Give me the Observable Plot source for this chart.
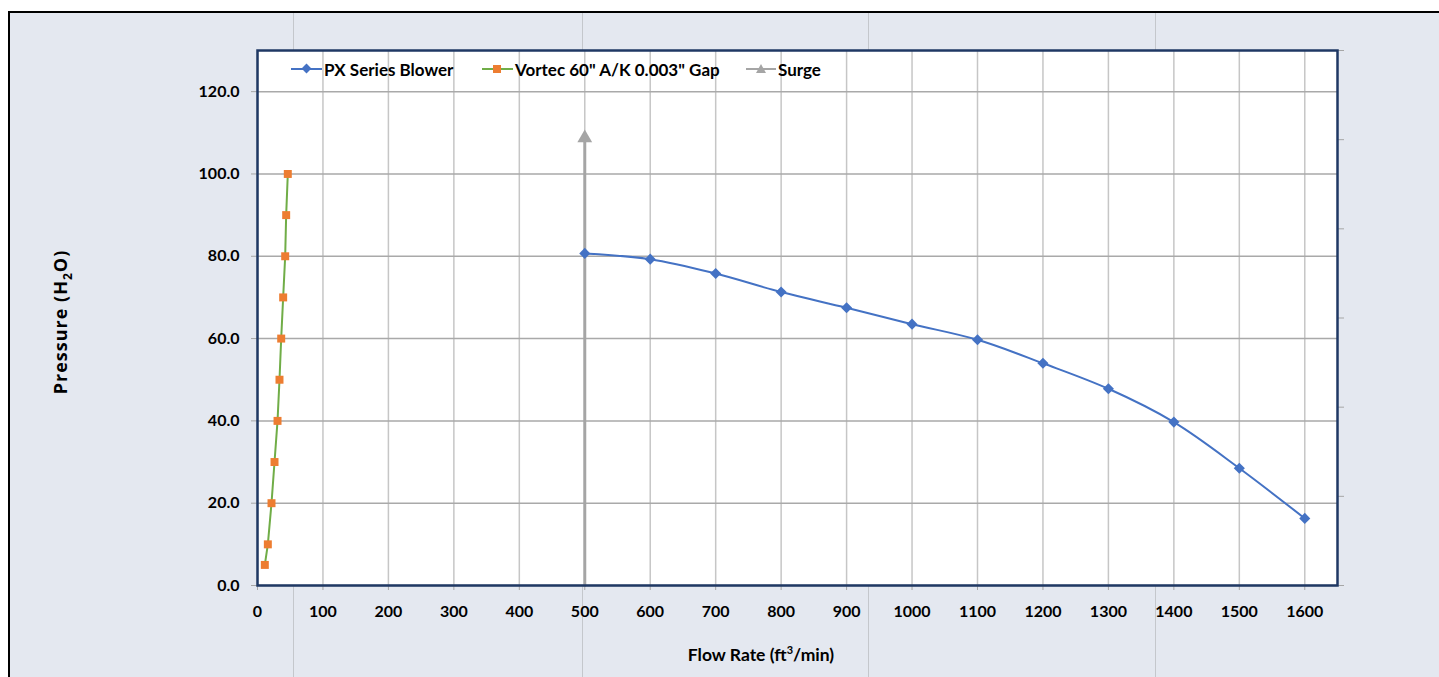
<!DOCTYPE html>
<html><head><meta charset="utf-8">
<script src="https://cdn.jsdelivr.net/npm/d3@7"></script>
<script src="https://cdn.jsdelivr.net/npm/@observablehq/plot@0.6"></script>
<style>
body{margin:0;background:#fff;width:1439px;height:677px;overflow:hidden;font-family:Lato,"Open Sans",sans-serif;}
#page{position:absolute;left:8px;top:11px;right:0;bottom:0;background:#e4e8f0;border-top:2.5px solid #000;border-left:2px solid #000;}
.vl{position:absolute;top:0;bottom:0;width:1px;background:#c4c7cc}
#chart{position:absolute;left:0;top:0}
.t{position:absolute;font-weight:bold;color:#000;white-space:nowrap;transform:translate(-50%,-50%)}
#ytitle{transform:translate(-50%,-50%) rotate(-90deg);font-size:18px;letter-spacing:1px;font-family:"Open Sans",sans-serif}
#xtitle{font-size:17.5px}
.leg{position:absolute;top:59px;height:20px;display:flex;align-items:center;font-size:17px;font-weight:bold;color:#000;white-space:nowrap}
.leg svg{margin-right:2px}
</style></head>
<body>
<div id="page">
  <div class="vl" style="left:283px"></div>
  <div class="vl" style="left:572px"></div>
  <div class="vl" style="left:858px"></div>
  <div class="vl" style="left:1145px"></div>
</div>
<div id="chart"></div>
<div class="t" id="ytitle" style="left:62px;top:322px">Pressure (H<sub style="font-size:12px">2</sub>O)</div>
<div class="t" id="xtitle" style="left:761px;top:654px">Flow Rate (ft<sup style="font-size:11px">3</sup>/min)</div>
<div class="leg" style="left:291px"><svg width="31" height="12"><line x1="0" y1="6" x2="31" y2="6" stroke="#4472c4" stroke-width="2"/><rect x="12" y="2" width="7" height="7" fill="#4472c4" transform="rotate(45 15.5 5.5)"/></svg>PX Series Blower</div>
<div class="leg" style="left:482px"><svg width="31" height="12"><line x1="0" y1="6" x2="31" y2="6" stroke="#70ad47" stroke-width="2"/><rect x="11" y="2" width="8" height="8" fill="#ed7d31"/></svg>Vortec 60" A/K 0.003" Gap</div>
<div class="leg" style="left:746px"><svg width="30" height="12"><line x1="0" y1="6" x2="30" y2="6" stroke="#a5a5a5" stroke-width="2"/><path d="M15 1 L20 10 L10 10 Z" fill="#a5a5a5"/></svg>Surge</div>
<script>
// Data
const pxFlow = [500, 600, 700, 800, 900, 1000, 1100, 1200, 1300, 1400, 1500, 1600];
const pxPressure = [80.7, 79.3, 75.8, 71.3, 67.5, 63.5, 59.7, 54.0, 47.8, 39.7, 28.5, 16.3];
const vortecFlow = [11.2, 15.8, 21.4, 26, 30.6, 33.6, 36.2, 39.2, 42.3, 43.8, 46.3];
const vortecPressure = [5, 10, 20, 30, 40, 50, 60, 70, 80, 90, 100];
const surgeFlow = [500, 500];
const surgePressure = [0, 108];
const xTicks = [0, 100, 200, 300, 400, 500, 600, 700, 800, 900, 1000, 1100, 1200, 1300, 1400, 1500, 1600];
const yTicks = [0, 20, 40, 60, 80, 100, 120];
const xDomain = [0, 1650];
const yDomain = [0, 130];
const secondaryTickCount = 6;

const px = pxFlow.map((x, i) => ({x, y: pxPressure[i]}));
const vortec = vortecFlow.map((x, i) => ({x, y: vortecPressure[i]}));
const surge = surgeFlow.map((x, i) => ({x, y: surgePressure[i]}));
const secTicks = d3.range(secondaryTickCount + 1).map(k => yDomain[0] + (yDomain[1] - yDomain[0]) * k / secondaryTickCount);

const chart = Plot.plot({
  width: 1439, height: 677,
  marginLeft: 257, marginRight: 102, marginTop: 50, marginBottom: 92,
  style: {background: "transparent", fontFamily: "Lato, 'Open Sans', sans-serif", color: "#000"},
  x: {domain: xDomain},
  y: {domain: yDomain},
  marks: [
    Plot.frame({fill: "white"}),
    Plot.gridX(xTicks, {stroke: "#c6c6c6", strokeOpacity: 1, strokeWidth: 1.5}),
    Plot.gridY(yTicks, {stroke: "#a9a9a9", strokeOpacity: 1, strokeWidth: 1.5}),
    Plot.axisX(xTicks, {tickSize: 5, tickPadding: 15, stroke: "#a6a6a6", fill: "#000", fontSize: 16, fontWeight: "bold", tickFormat: d => String(d), label: null}),
    Plot.axisY(yTicks, {tickSize: 6, tickPadding: 12, stroke: "#a6a6a6", fill: "#000", fontSize: 16, fontWeight: "bold", tickFormat: d => d.toFixed(1), label: null}),
    Plot.axisY(secTicks, {anchor: "right", tickSize: 6, stroke: "#a6a6a6", tickFormat: () => "", label: null}),
    Plot.line(surge, {x: "x", y: "y", stroke: "#a5a5a5", strokeWidth: 3}),
    Plot.dot(surge.slice(1), {x: "x", y: "y", symbol: "triangle", fill: "#a5a5a5", r: 5.5, dy: -3}),
    Plot.line(vortec, {x: "x", y: "y", stroke: "#70ad47", strokeWidth: 2}),
    Plot.dot(vortec, {x: "x", y: "y", symbol: "square", fill: "#ed7d31", r: 4.5}),
    Plot.line(px, {x: "x", y: "y", stroke: "#4472c4", strokeWidth: 2, curve: "catmull-rom"}),
    Plot.dot(px, {x: "x", y: "y", symbol: "diamond2", fill: "#4472c4", r: 5}),
    Plot.frame({stroke: "#1f3864", strokeWidth: 2.5})
  ]
});
document.getElementById("chart").appendChild(chart);
</script>
</body></html>
